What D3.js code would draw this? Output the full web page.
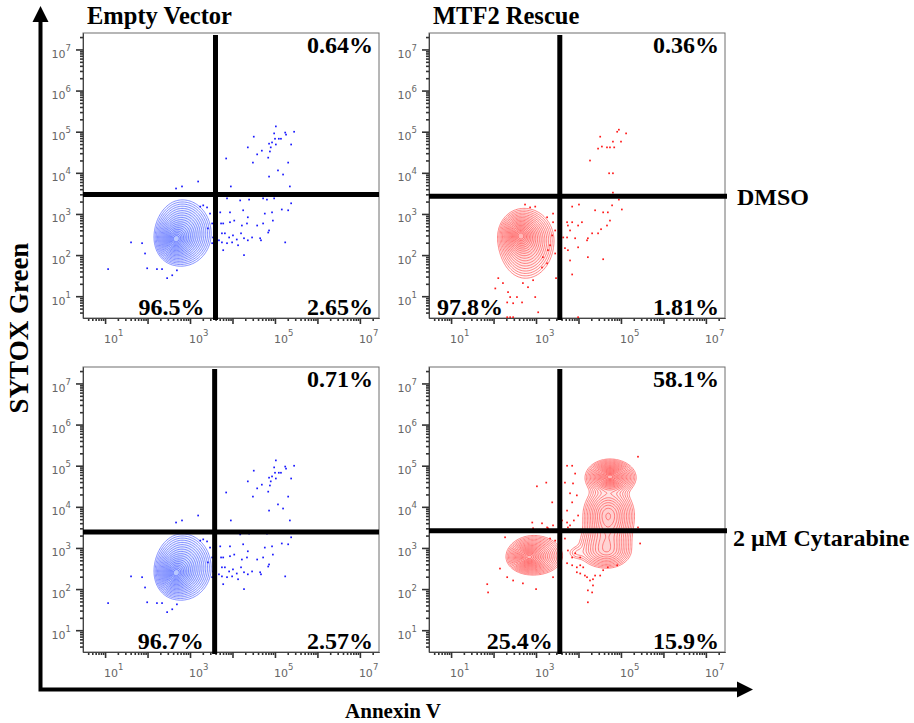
<!DOCTYPE html>
<html>
<head>
<meta charset="utf-8">
<script src="https://cdn.jsdelivr.net/npm/d3@7"></script>
<style>
  body { margin: 0; background: #fff; }
  svg { display: block; }
</style>
</head>
<body>
<svg id="chart" width="914" height="723"></svg>
<script>
// ---- data (all positions in log10 units) ----
const columnTitles = ["Empty Vector", "MTF2 Rescue"];
const rowTitles = ["DMSO", "2 \u00B5M Cytarabine"];
const xAxisTitle = "Annexin V";
const yAxisTitle = "SYTOX Green";
const majorExponents = [1, 2, 3, 4, 5, 6, 7];
const xLabelExponents = [1, 3, 5, 7];
const yLabelExponents = [1, 2, 3, 4, 5, 6, 7];

// cell populations (split-normal in log space):
// [Annexin V centre, SYTOX centre, sd left, sd right, sd down, sd up, peak height]
const evDmsoPops = [
  [2.62, 2.36, 0.16, 0.20, 0.20, 0.22, 0.60],
  [2.82, 2.52, 0.26, 0.28, 0.32, 0.34, 0.45]
];
const evAraPops = evDmsoPops;
const mtfDmsoPops = [
  [2.60, 2.50, 0.17, 0.20, 0.22, 0.20, 0.60],
  [2.75, 2.35, 0.26, 0.28, 0.38, 0.32, 0.45]
];
const mtfAraPops = [
  [2.79, 2.77, 0.17, 0.20, 0.13, 0.14, 0.55],
  [2.95, 2.80, 0.26, 0.28, 0.19, 0.21, 0.45],
  [4.74, 4.74, 0.18, 0.20, 0.13, 0.13, 0.55],
  [4.74, 4.70, 0.24, 0.25, 0.18, 0.19, 0.45],
  [4.70, 3.79, 0.24, 0.25, 0.35, 0.30, 0.55],
  [4.66, 2.95, 0.28, 0.25, 0.19, 0.30, 0.38],
  [3.95, 2.88, 0.12, 0.12, 0.10, 0.10, 0.04]
];

// individual outlier events
const evDots = [
  [3.85,4.35],[4.36,4.62],[4.50,4.88],[4.48,4.25],[4.58,4.45],[4.69,4.54],[4.84,4.37],[4.86,4.71],
  [4.88,4.52],[4.90,4.62],[4.93,4.74],[4.98,4.96],[5.00,4.83],[5.02,4.69],[5.02,5.13],[5.09,4.83],
  [5.14,4.83],[5.24,4.98],[5.26,4.93],[5.38,4.69],[5.45,5.00],[5.31,4.25],[5.07,4.06],[4.86,3.91],
  [5.19,3.96],[2.67,3.62],[2.81,3.67],[3.19,3.79],[3.96,3.67],[5.35,3.67],
  [3.87,3.38],[4.18,3.33],[4.39,3.35],[4.72,3.38],[4.81,3.35],[4.98,3.38],[5.38,3.26],[3.94,3.04],
  [4.25,3.09],[4.36,2.92],[4.76,3.01],[4.93,3.04],[5.16,3.11],[5.31,3.09],[3.78,2.77],[3.94,2.80],
  [4.04,2.84],[4.22,2.72],[4.34,2.77],[4.58,2.72],[4.72,2.77],[4.95,2.84],[4.86,2.60],[4.84,2.55],
  [3.82,2.53],[3.92,2.43],[4.01,2.48],[4.10,2.38],[4.20,2.53],[4.27,2.41],[4.36,2.36],[4.46,2.43],
  [4.65,2.41],[4.67,2.36],[3.75,2.31],[3.87,2.29],[3.99,2.31],[4.13,2.24],[3.78,2.12],[4.27,2.00],
  [5.24,2.31],[1.07,1.66],[1.61,2.31],[1.87,2.29],[1.94,2.04],[1.99,1.68],[2.22,1.66],[2.46,1.44],
  [2.58,1.51],[2.69,1.63],[2.34,1.66],[3.40,3.16],[3.47,3.01],[3.52,2.77],[3.42,2.65],[3.54,2.43],
  [3.31,3.21],[3.24,3.18],[3.52,2.29],[3.71,3.04],[3.73,2.77],[3.75,2.53],[3.68,2.36]
];
const mtfDmsoDots = [
  [4.27,4.30],[4.46,4.59],[4.51,4.88],[4.55,4.64],[4.67,4.62],[4.74,4.62],[4.81,4.76],[4.84,4.62],
  [4.91,5.00],[4.95,5.05],[5.00,4.76],[5.12,4.96],[4.72,3.99],[4.81,3.99],[4.81,3.52],[4.95,3.35],
  [5.02,3.11],[4.79,3.21],[4.69,3.04],[4.58,3.04],[4.39,3.09],[4.74,2.84],[4.67,2.72],[4.53,2.63],
  [4.46,2.53],[4.32,2.53],[4.20,2.36],[4.22,2.41],[4.08,2.80],[3.99,2.72],[3.85,2.80],[3.75,2.72],
  [3.73,2.80],[3.85,3.18],[4.01,3.23],[3.80,2.60],[3.73,2.43],[3.92,2.41],[3.99,2.19],[3.75,2.12],
  [3.80,1.87],[3.85,1.53],[4.22,1.95],[4.58,1.90],[3.64,2.43],[3.68,2.17],
  [2.04,1.19],[2.11,1.44],[2.22,1.32],[2.34,1.10],[2.39,0.98],[2.32,0.85],[2.46,0.83],[2.55,0.98],
  [2.69,1.32],[2.81,1.22],[2.93,1.39],[2.98,0.98],[3.05,0.61],[2.67,0.85],[2.39,0.49],[2.46,0.49],
  [2.32,0.49],[3.14,1.70],[3.16,1.95],[3.26,1.80],[3.28,2.12],[3.33,2.24],[3.38,2.48],[3.40,2.80],
  [3.45,2.60],[3.47,1.44],[3.40,3.01],[3.45,2.04],[2.74,3.23],[2.98,3.18],[2.86,3.16],[3.26,2.92],
  [3.99,0.49]
];
const mtfAraDots = [
  [5.40,5.22],[3.85,5.00],[3.73,5.00],[3.92,4.81],[3.87,4.57],[3.80,4.33],[3.85,4.11],[3.96,4.28],
  [3.99,3.79],[3.89,3.67],[3.73,3.62],[3.75,3.50],[3.61,3.67],[3.38,4.11],[3.24,4.59],[3.02,4.50],
  [2.91,3.62],[3.14,3.60],[3.26,3.50],[3.40,3.55],[3.28,3.48],[2.93,3.48],[2.27,3.26],[2.15,2.50],
  [2.32,2.29],[1.85,2.12],[1.87,1.92],[2.46,2.21],[2.69,2.14],[3.00,2.00],[3.40,2.29],[5.40,3.50],
  [5.45,3.11],[3.73,2.63],[3.85,2.58],[3.96,2.53],[4.04,2.58],[4.11,2.53],[4.04,2.38],[4.15,2.33],
  [4.20,2.29],[4.27,2.21],[4.34,2.24],[4.39,2.33],[4.51,2.33],[4.34,2.09],[4.22,1.97],[4.32,1.92],
  [4.22,1.68],[3.96,2.41],[3.85,2.77],[3.75,2.94],[3.92,2.87],[4.04,2.77],[4.91,2.58],[4.58,2.46],
  [4.69,2.53],[3.68,3.23],[3.80,3.55],[3.56,3.60],[3.68,4.59],[3.73,3.91],[3.33,3.23],[3.45,3.18]
];

// quadrant gates and percentages [upper right, lower left, lower right]
const gatesX = [3.60, 3.56, 3.58, 3.56];
const gatesY = [3.47, 3.43, 3.39, 3.42];
const quadrantPercents = [
  ["0.64%", "96.5%", "2.65%"],
  ["0.36%", "97.8%", "1.81%"],
  ["0.71%", "96.7%", "2.57%"],
  ["58.1%", "25.4%", "15.9%"]
];

// ---- layout ----
const svg = d3.select("#chart");
const W = 296, H = 285;
const colX = [83, 429], rowY = [33, 367];
const logX = [0.48, 7.45], logY = [0.47, 7.40];
const serif = "'Liberation Serif','Times New Roman',Times,serif";
const sans = "'DejaVu Sans',sans-serif";

const x = d3.scaleLog().domain([10 ** logX[0], 10 ** logX[1]]).range([0, W]);
const y = d3.scaleLog().domain([10 ** logY[0], 10 ** logY[1]]).range([H, 0]);

const minorVals = [];
for (let e = 0; e <= 7; e++) for (let m = 2; m <= 9; m++) {
  const v = m * 10 ** e;
  if (v > 10 ** logX[0] && v < 10 ** logX[1]) minorVals.push(v);
}
const majorVals = majorExponents.map(e => 10 ** e);

const panels = [
  { col: 0, row: 0, pops: evDmsoPops, dots: evDots, line: "#4a5cff", dot: "#1a1aff", llAlign: "gate" },
  { col: 1, row: 0, pops: mtfDmsoPops, dots: mtfDmsoDots, line: "#ff4a4a", dot: "#ff1a1a", llAlign: "left" },
  { col: 0, row: 1, pops: evAraPops, dots: evDots, line: "#4a5cff", dot: "#1a1aff", llAlign: "gate" },
  { col: 1, row: 1, pops: mtfAraPops, dots: mtfAraDots, line: "#ff4a4a", dot: "#ff1a1a", llAlign: "gate" }
];

// density grid over the log-log plotting area
const NX = 220, NY = 220;
const dxL = (logX[1] - logX[0]) / NX, dyL = (logY[1] - logY[0]) / NY;
function densityGrid(pops) {
  const vals = new Float64Array(NX * NY);
  for (let j = 0; j < NY; j++) {
    const ly = logY[0] + (j + 0.5) * dyL;
    for (let i = 0; i < NX; i++) {
      const lx = logX[0] + (i + 0.5) * dxL;
      let s = 0;
      for (const [cx, cy, sl, sr, sd, su, h] of pops) {
        const dx = lx - cx, dy = ly - cy;
        const u = dx / (dx < 0 ? sl : sr), v = dy / (dy < 0 ? sd : su);
        s += h * Math.exp(-0.5 * (u * u + v * v));
      }
      vals[i + j * NX] = s;
    }
  }
  return vals;
}

const gridProjection = d3.geoTransform({
  point(px, py) {
    this.stream.point(x(10 ** (logX[0] + px * dxL)), y(10 ** (logY[0] + py * dyL)));
  }
});
const contourPath = d3.geoPath(gridProjection);

// contour levels spaced evenly in radius from the peak
const ringRadii = d3.range(19).map(i => 0.3 + i * (2.7 - 0.3) / 18);

panels.forEach((p, k) => {
  const g = svg.append("g").attr("transform", `translate(${colX[p.col]},${rowY[p.row]})`);
  const clipId = "clip" + k;
  g.append("clipPath").attr("id", clipId).append("rect").attr("width", W).attr("height", H);

  // frame
  g.append("rect").attr("width", W).attr("height", H)
    .attr("fill", "#fff").attr("stroke", "#6e6e6e").attr("stroke-width", 1);

  const plot = g.append("g").attr("clip-path", `url(#${clipId})`);

  // contour lines
  const vals = densityGrid(p.pops);
  const vmax = d3.max(vals);
  const thresholds = ringRadii.map(r => vmax * Math.exp(-r * r / 2)).sort((a, b) => a - b);
  const contours = d3.contours().size([NX, NY]).thresholds(thresholds)(vals);
  plot.append("g").selectAll("path").data(contours).join("path")
    .attr("d", contourPath)
    .attr("fill", p.line)
    .attr("fill-opacity", 0.02)
    .attr("stroke", p.line)
    .attr("stroke-opacity", 0.75)
    .attr("stroke-width", 0.9);

  // outlier events
  plot.append("g").selectAll("rect").data(p.dots).join("rect")
    .attr("x", d => x(10 ** d[0]) - 0.8)
    .attr("y", d => y(10 ** d[1]) - 0.8)
    .attr("width", 1.7).attr("height", 1.7)
    .attr("fill", p.dot);

  // axes: major and minor ticks
  const xAxisMinor = d3.axisBottom(x).tickValues(minorVals).tickSize(3).tickSizeOuter(0).tickFormat("");
  const xAxisMajor = d3.axisBottom(x).tickValues(majorVals).tickSize(6).tickSizeOuter(0).tickFormat("");
  const yAxisMinor = d3.axisLeft(y).tickValues(minorVals.filter(v => v < 10 ** logY[1])).tickSize(3).tickSizeOuter(0).tickFormat("");
  const yAxisMajor = d3.axisLeft(y).tickValues(majorVals).tickSize(7).tickSizeOuter(0).tickFormat("");

  const gx = g.append("g").attr("transform", `translate(0,${H})`);
  gx.append("g").call(xAxisMinor);
  gx.append("g").call(xAxisMajor);
  const gy = g.append("g");
  gy.append("g").call(yAxisMinor);
  gy.append("g").call(yAxisMajor);
  g.selectAll(".domain").attr("stroke", "#444");
  g.selectAll(".tick line").attr("stroke", "#333");
  gx.selectAll("g:last-child .tick line").attr("stroke-width", 1.6);
  gy.selectAll("g:last-child .tick line").attr("stroke-width", 1.6);

  // tick labels 10^n
  xLabelExponents.forEach(e => {
    const t = g.append("text").attr("x", x(10 ** e) - 1).attr("y", H + 25)
      .attr("font-family", sans).attr("font-size", 11).attr("fill", "#666");
    t.append("tspan").text("10");
    t.append("tspan").attr("dy", -7).attr("font-size", 8.5).text(e);
  });
  yLabelExponents.forEach(e => {
    const t = g.append("text").attr("x", -12).attr("y", y(10 ** e) + 8.5)
      .attr("text-anchor", "end")
      .attr("font-family", sans).attr("font-size", 11).attr("fill", "#666");
    t.append("tspan").text("10");
    t.append("tspan").attr("dy", -7).attr("font-size", 8.5).text(e);
  });

  // quadrant gate
  const gxPos = x(10 ** gatesX[k]), gyPos = y(10 ** gatesY[k]);
  g.append("line").attr("x1", gxPos).attr("x2", gxPos).attr("y1", 2).attr("y2", H + 2)
    .attr("stroke", "#000").attr("stroke-width", 5);
  g.append("line").attr("x1", 0).attr("x2", W + (p.col === 1 ? 2 : 0)).attr("y1", gyPos).attr("y2", gyPos)
    .attr("stroke", "#000").attr("stroke-width", 5);

  // quadrant percentages
  const [ur, ll, lr] = quadrantPercents[k];
  const pctText = (tx, ty, anchor, s) => g.append("text").attr("x", tx).attr("y", ty)
    .attr("text-anchor", anchor).attr("font-family", serif).attr("font-weight", "bold")
    .attr("font-size", 24).attr("fill", "#000").text(s);
  pctText(W - 6, 20, "end", ur);
  if (p.llAlign === "left") pctText(8, H - 3, "start", ll);
  else pctText(gxPos - (p.col === 1 ? 7 : 11), H - 3, "end", ll);
  pctText(W - 6, H - 3, "end", lr);
});

// column and row titles
columnTitles.forEach((t, i) => {
  svg.append("text").attr("x", colX[i] + 4).attr("y", 24)
    .attr("font-family", serif).attr("font-weight", "bold").attr("font-size", 24.5).text(t);
});
rowTitles.forEach((t, i) => {
  svg.append("text").attr("x", i === 0 ? 737 : 733).attr("y", i === 0 ? 205 : 546)
    .attr("font-family", serif).attr("font-weight", "bold").attr("font-size", 24).text(t);
});

// big axis arrows
const arrows = svg.append("g");
arrows.append("path").attr("d", "M40.5,691 L40.5,20 M38.5,689.5 L740,689.5")
  .attr("fill", "none").attr("stroke", "#000").attr("stroke-width", 4);
arrows.append("path").attr("d", "M40.5,6 L32.5,22 L48.5,22 Z").attr("fill", "#000");
arrows.append("path").attr("d", "M753,689.5 L737,681.5 L737,697.5 Z").attr("fill", "#000");

svg.append("text").attr("x", 393).attr("y", 718).attr("text-anchor", "middle")
  .attr("font-family", serif).attr("font-weight", "bold").attr("font-size", 21).text(xAxisTitle);
svg.append("text").attr("transform", "translate(28,328) rotate(-90)").attr("text-anchor", "middle")
  .attr("font-family", serif).attr("font-weight", "bold").attr("font-size", 27).text(yAxisTitle);
</script>
</body>
</html>
